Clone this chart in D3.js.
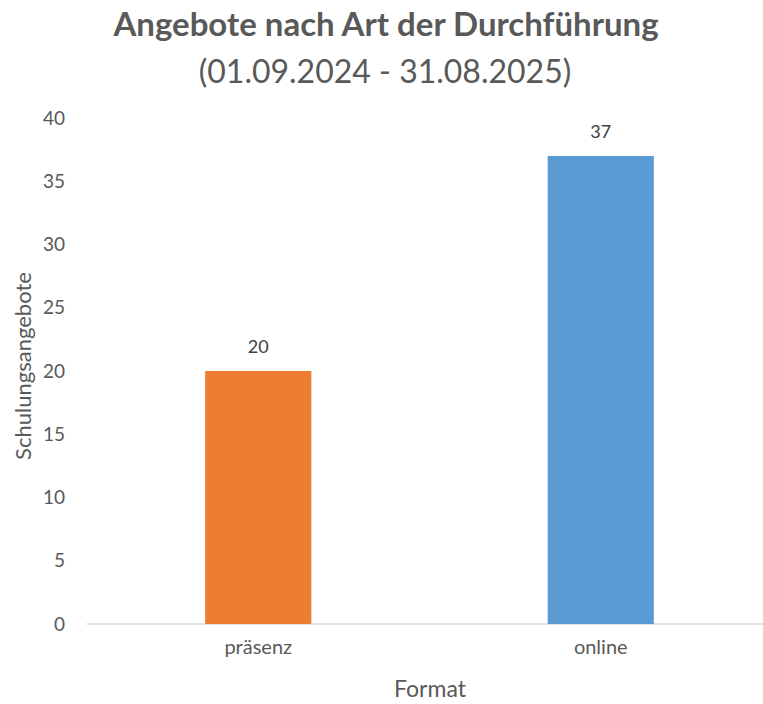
<!DOCTYPE html>
<html><head><meta charset="utf-8">
<script src="https://cdn.jsdelivr.net/npm/d3@7"></script>
<style>body{margin:0;background:#fff}svg{display:block}</style>
</head><body>
<script>
const categories = ["präsenz", "online"];
const values = [20, 37];
const colors = ["#ED7D31", "#5B9BD5"];
const yTicks = [0, 5, 10, 15, 20, 25, 30, 35, 40];

const W = 763, H = 704;
const font = "Lato, 'Open Sans', sans-serif";
const svg = d3.select("body").append("svg").attr("width", W).attr("height", H);

const plotLeft = 87, plotRight = 772, plotTop = 118, plotBottom = 624;
const x = d3.scaleBand().domain(categories).range([plotLeft, plotRight]).paddingInner(0.69).paddingOuter(0.345);
const y = d3.scaleLinear().domain([0, 40]).range([plotBottom, plotTop]);

svg.append("text").attr("x", 386).attr("y", 36).attr("text-anchor", "middle")
  .attr("font-family", font).attr("font-weight", "bold").attr("font-size", 33)
  .attr("fill", "#595959").text("Angebote nach Art der Durchführung");
svg.append("text").attr("x", 385).attr("y", 83).attr("text-anchor", "middle")
  .attr("font-family", font).attr("font-size", 32)
  .attr("fill", "#595959").text("(01.09.2024 - 31.08.2025)");

const yAxis = svg.append("g").attr("transform", `translate(${plotLeft},0)`)
  .call(d3.axisLeft(y).tickValues(yTicks).tickSize(0).tickPadding(22));
yAxis.select(".domain").remove();
yAxis.selectAll("text").attr("font-family", font).attr("font-size", 19).attr("fill", "#595959");

svg.append("line").attr("x1", plotLeft).attr("x2", plotRight).attr("y1", y(0)).attr("y2", y(0))
  .attr("stroke", "#d9d9d9").attr("stroke-width", 1.5);

svg.selectAll("rect.bar").data(categories).join("rect").attr("class", "bar")
  .attr("x", d => x(d)).attr("width", x.bandwidth())
  .attr("y", (d, i) => y(values[i])).attr("height", (d, i) => y(0) - y(values[i]))
  .attr("fill", (d, i) => colors[i]);

svg.selectAll("text.lbl").data(categories).join("text").attr("class", "lbl")
  .attr("x", d => x(d) + x.bandwidth() / 2).attr("y", (d, i) => y(values[i]) - 18)
  .attr("text-anchor", "middle").attr("font-family", font).attr("font-size", 18)
  .attr("fill", "#404040").text((d, i) => values[i]);

const xAxis = svg.append("g").attr("transform", `translate(0,${plotBottom})`)
  .call(d3.axisBottom(x).tickSize(0).tickPadding(16));
xAxis.select(".domain").remove();
xAxis.selectAll("text").attr("font-family", font).attr("font-size", 20).attr("fill", "#595959");

svg.append("text").attr("x", 430).attr("y", 697).attr("text-anchor", "middle")
  .attr("font-family", font).attr("font-size", 23).attr("fill", "#595959").text("Format");

svg.append("text").attr("transform", "translate(31,366) rotate(-90)").attr("text-anchor", "middle")
  .attr("font-family", font).attr("font-size", 22).attr("fill", "#595959").text("Schulungsangebote");
</script>
</body></html>
